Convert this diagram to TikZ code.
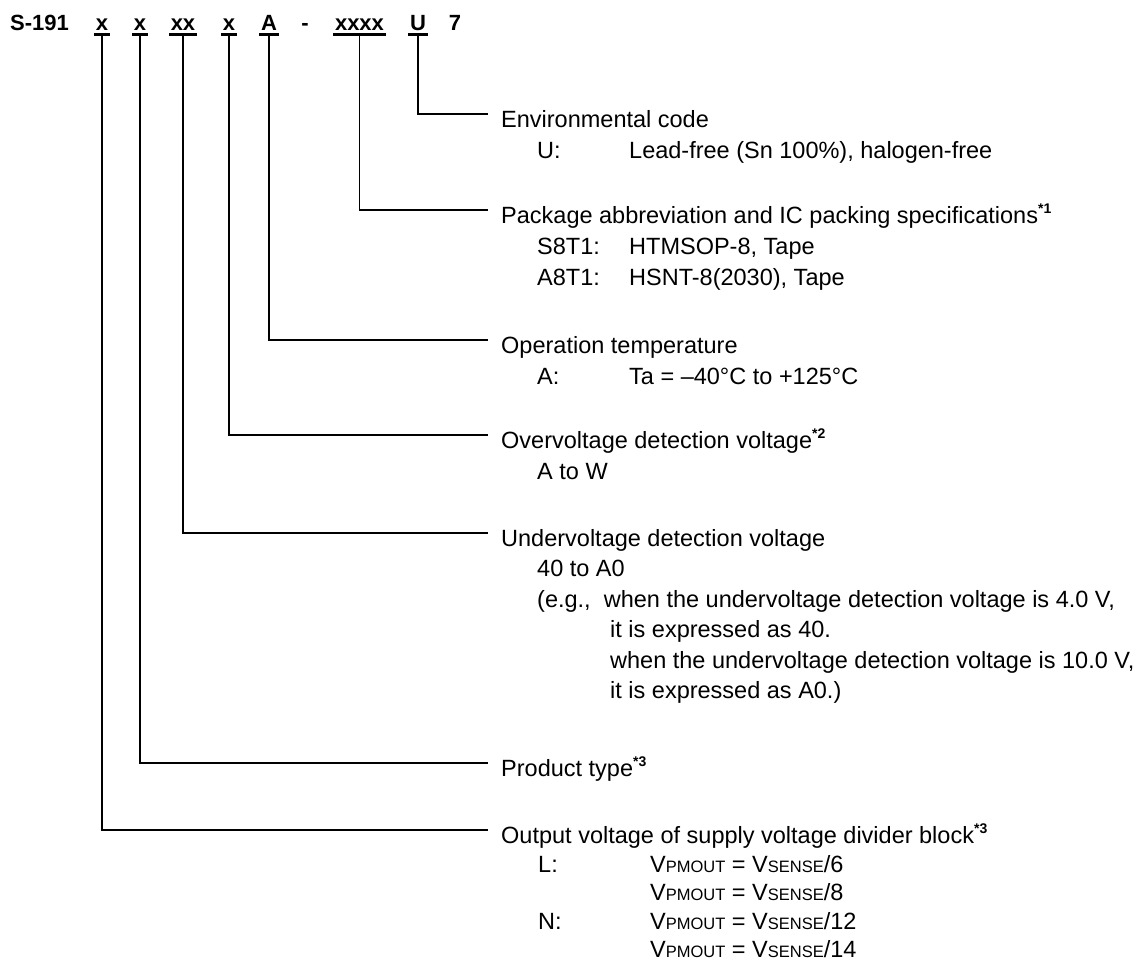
\documentclass[tikz,border=0pt]{standalone}
\usepackage{fontspec}
\setmainfont{Liberation Sans}
\newcommand\subtxt[1]{{\fontsize{16.5}{18}\selectfont #1}}
\newcommand\fnmark[1]{\raisebox{0.42em}{\fontsize{14}{16}\selectfont\bfseries #1}}
\begin{document}
\begin{tikzpicture}[x=1pt,y=-1pt,
  tok/.style={font=\fontsize{22}{26}\selectfont\bfseries, inner sep=0pt, anchor=base},
  lbl/.style={font=\fontsize{23.5}{28}\selectfont, inner sep=0pt, anchor=base west},
  conn/.style={line width=1.7pt},
  uline/.style={line width=2.2pt}]
\useasboundingbox (0,0) rectangle (1145,963);
% header tokens
\node[tok, anchor=base west] (s191) at (10,31) {S-191};
\node[tok] (t1) at (102,31) {x};
\node[tok] (t2) at (140,31) {x};
\node[tok] (t3) at (183,31) {xx};
\node[tok] (t4) at (229,31) {x};
\node[tok] (t5) at (269,31) {A};
\node[tok] (t6) at (305,31) {-};
\node[tok] (t7) at (359.5,31) {xxxx};
\node[tok] (t8) at (418,31) {U};
\node[tok] (t9) at (455,31) {7};
% underlines
\foreach \t in {t1,t2,t3,t4,t5,t7,t8}{
  \draw[uline] ([xshift=-1.5pt,yshift=-3.5pt]\t.base west) -- ([xshift=1.5pt,yshift=-3.5pt]\t.base east);
}
% connector ends
\coordinate (eU) at (488,114);
\coordinate (eP) at (488,210);
\coordinate (eA) at (488,340);
\coordinate (eO) at (488,435);
\coordinate (eV) at (488,533);
\coordinate (eT) at (488,763);
\coordinate (eD) at (488,830);
\draw[conn] ([yshift=-3.5pt]t8.base) |- (eU);
\draw[conn] ([yshift=-3.5pt]t7.base) |- (eP);
\draw[conn] ([yshift=-3.5pt]t5.base) |- (eA);
\draw[conn] ([yshift=-3.5pt]t4.base) |- (eO);
\draw[conn] ([yshift=-3.5pt]t3.base) |- (eV);
\draw[conn] ([yshift=-3.5pt]t2.base) |- (eT);
\draw[conn] ([yshift=-3.5pt]t1.base) |- (eD);
% Environmental code
\node[lbl] (env) at (501,127.5) {Environmental code};
\node[lbl] (envk) at (537,158.5) {U:};
\node[lbl] (envv) at (629,158.5) {Lead-free (Sn 100\%), halogen-free};
% Package
\node[lbl] (pkg) at (501,223) {Package abbreviation and IC packing specifications\fnmark{*1}};
\node[lbl] (pkgk1) at (537,254.5) {S8T1:};
\node[lbl] (pkgv1) at (629,254.5) {HTMSOP-8, Tape};
\node[lbl] (pkgk2) at (537,285.5) {A8T1:};
\node[lbl] (pkgv2) at (629,285.5) {HSNT-8(2030), Tape};
% Operation temperature
\node[lbl] (opt) at (501,353) {Operation temperature};
\node[lbl] (optk) at (537,384.5) {A:};
\node[lbl] (optv) at (629,384.5) {Ta = –40°C to +125°C};
% Overvoltage
\node[lbl] (ovd) at (501,448) {Overvoltage detection voltage\fnmark{*2}};
\node[lbl] (ovdv) at (537,479.5) {A to W};
% Undervoltage
\node[lbl] (uvd) at (501,546) {Undervoltage detection voltage};
\node[lbl] (uvd1) at (537,576.5) {40 to A0};
\node[lbl] (uvd2) at (537,607) {(e.g., \ when the undervoltage detection voltage is 4.0 V,};
\node[lbl] (uvd3) at (610,637.5) {it is expressed as 40.};
\node[lbl] (uvd4) at (610,668) {when the undervoltage detection voltage is 10.0 V,};
\node[lbl] (uvd5) at (610,698.5) {it is expressed as A0.)};
% Product type
\node[lbl] (prt) at (501,776) {Product type\fnmark{*3}};
% Output voltage
\node[lbl] (out) at (501,843) {Output voltage of supply voltage divider block\fnmark{*3}};
\node[lbl] (outk1) at (538,872) {L:};
\node[lbl] (outv1) at (650,872) {V\subtxt{PMOUT} = V\subtxt{SENSE}/6};
\node[lbl] (outv2) at (650,900.5) {V\subtxt{PMOUT} = V\subtxt{SENSE}/8};
\node[lbl] (outk2) at (538,929) {N:};
\node[lbl] (outv3) at (650,929) {V\subtxt{PMOUT} = V\subtxt{SENSE}/12};
\node[lbl] (outv4) at (650,957.5) {V\subtxt{PMOUT} = V\subtxt{SENSE}/14};
\end{tikzpicture}
\end{document}
